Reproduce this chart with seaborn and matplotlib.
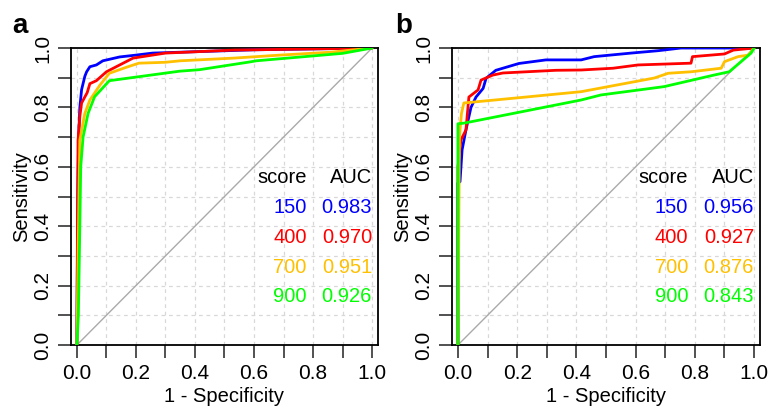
#!/usr/bin/env python3

import pandas as pd
import seaborn as sns
import matplotlib.pyplot as plt
import numpy as np

# score cutoffs and colours
scores = ['150', '400', '700', '900']
colors = ['#0000FF', '#FF0000', '#FFC000', '#00FF00']

# panel a: ROC points (1 - specificity, sensitivity)
a_fpr_150 = [0.0, 0.003, 0.006, 0.010, 0.016, 0.027, 0.033, 0.044, 0.066, 0.088, 0.11, 0.145, 0.19, 0.257, 0.415, 0.6, 1.0]
a_tpr_150 = [0.0, 0.50, 0.70, 0.80, 0.86, 0.905, 0.92, 0.937, 0.943, 0.957, 0.962, 0.970, 0.975, 0.983, 0.988, 0.994, 1.0]
a_fpr_400 = [0.0, 0.002, 0.004, 0.010, 0.016, 0.035, 0.044, 0.066, 0.10, 0.145, 0.19, 0.30, 0.53, 1.0]
a_tpr_400 = [0.0, 0.40, 0.69, 0.77, 0.815, 0.85, 0.88, 0.89, 0.92, 0.943, 0.966, 0.983, 0.993, 1.0]
a_fpr_700 = [0.0, 0.004, 0.010, 0.027, 0.044, 0.078, 0.11, 0.17, 0.21, 0.30, 0.35, 0.53, 0.686, 0.86, 1.0]
a_tpr_700 = [0.0, 0.30, 0.69, 0.78, 0.825, 0.875, 0.915, 0.936, 0.949, 0.952, 0.957, 0.966, 0.976, 0.986, 1.0]
a_fpr_900 = [0.0, 0.005, 0.010, 0.013, 0.021, 0.038, 0.06, 0.11, 0.348, 0.415, 0.585, 0.608, 0.9, 1.0]
a_tpr_900 = [0.0, 0.10, 0.40, 0.60, 0.70, 0.78, 0.836, 0.89, 0.922, 0.927, 0.953, 0.957, 0.982, 1.0]
a_auc = ['0.983', '0.970', '0.951', '0.926']

# panel b
b_fpr_150 = [0.0, 0.0, 0.007, 0.014, 0.027, 0.044, 0.061, 0.085, 0.095, 0.128, 0.206, 0.297, 0.416, 0.46, 0.585, 0.676, 0.753, 1.0]
b_tpr_150 = [0.0, 0.545, 0.55, 0.657, 0.724, 0.80, 0.835, 0.864, 0.898, 0.925, 0.948, 0.96, 0.96, 0.971, 0.983, 0.991, 1.0, 1.0]
b_fpr_400 = [0.0, 0.0, 0.010, 0.027, 0.037, 0.068, 0.078, 0.118, 0.152, 0.331, 0.416, 0.524, 0.608, 0.787, 0.792, 0.9, 0.93, 1.0]
b_tpr_400 = [0.0, 0.60, 0.69, 0.724, 0.835, 0.859, 0.892, 0.909, 0.916, 0.925, 0.926, 0.932, 0.943, 0.949, 0.971, 0.98, 0.993, 1.0]
b_fpr_700 = [0.0, 0.005, 0.012, 0.02, 0.23, 0.416, 0.663, 0.71, 0.787, 0.889, 0.9, 0.946, 0.98, 1.0]
b_tpr_700 = [0.0, 0.70, 0.78, 0.815, 0.835, 0.853, 0.899, 0.915, 0.92, 0.932, 0.954, 0.971, 0.976, 1.0]
b_fpr_900 = [0.0, 0.0, 0.02, 0.416, 0.483, 0.696, 0.865, 0.916, 0.956, 0.99, 1.0]
b_tpr_900 = [0.0, 0.745, 0.747, 0.825, 0.842, 0.87, 0.909, 0.92, 0.954, 0.983, 1.0]
b_auc = ['0.956', '0.927', '0.876', '0.843']

ticks = np.round(np.arange(0, 1.01, 0.1), 1)
tick_labels = [f'{t:.1f}' if i % 2 == 0 else '' for i, t in enumerate(ticks)]


def make_frame(fprs, tprs):
    rows = []
    for score, fpr, tpr in zip(scores, fprs, tprs):
        for i, (x, y) in enumerate(zip(fpr, tpr)):
            rows.append([score, i, x, y])
    return pd.DataFrame(rows, columns=['score', 'idx', 'fpr', 'tpr'])


def plotRoc(ax, data, aucs, letter, fig, letter_x):
    ax.plot([0, 1], [0, 1], color='#AAAAAA', lw=1.0, zorder=1)
    sns.lineplot(data=data, x='fpr', y='tpr', hue='score', hue_order=scores,
                 palette=colors, sort=False, estimator=None, lw=2.0,
                 legend=False, ax=ax, zorder=3)
    ax.set_xlim(-0.02, 1.02)
    ax.set_ylim(0, 1)
    ax.set_xticks(ticks)
    ax.set_yticks(ticks)
    ax.set_xticklabels(tick_labels)
    ax.set_yticklabels(tick_labels, rotation=90, va='center')
    ax.grid(True, color='#D8D8D8', ls=(0, (3, 3)), lw=0.9)
    ax.set_axisbelow(True)
    ax.tick_params(direction='out', length=9.5, width=1.1, labelsize=15,
                   pad=4, color='#222222', labelcolor='black',
                   left=True, bottom=True)
    for s in ax.spines.values():
        s.set_visible(True)
        s.set_color('black')
        s.set_linewidth(1.3)
    ax.set_xlabel('1 - Specificity', fontsize=14.5, color='black')
    ax.set_ylabel('Sensitivity', fontsize=14.5, color='black')
    ax.xaxis.set_label_coords(0.5, -0.14)
    ax.yaxis.set_label_coords(-0.13, 0.5)

    ax.text(0.778, 0.545, 'score', ha='right', va='baseline', fontsize=14.5,
            color='black')
    ax.text(1.0, 0.545, 'AUC', ha='right', va='baseline', fontsize=14.5,
            color='black')
    for i, (score, auc) in enumerate(zip(scores, aucs)):
        y = 0.444 - i * 0.1
        ax.text(0.778, y, score, ha='right', va='baseline', fontsize=14.5,
                color=colors[i])
        ax.text(1.0, y, auc, ha='right', va='baseline', fontsize=14.5,
                color=colors[i])
    fig.text(letter_x, 0.919, letter, fontsize=20, fontweight='bold',
             va='baseline', ha='left', color='black')


def main():
    sns.set_style("white")
    plt.rcParams['font.family'] = ['Liberation Sans', 'DejaVu Sans']
    plt.rcParams['text.color'] = 'black'

    fig = plt.figure(figsize=(7.69, 4.07), dpi=100)
    ax_a = fig.add_axes([0.0923, 0.1523, 0.3992, 0.7297])
    ax_b = fig.add_axes([0.5878, 0.1523, 0.4005, 0.7297])

    data_a = make_frame([a_fpr_150, a_fpr_400, a_fpr_700, a_fpr_900],
                        [a_tpr_150, a_tpr_400, a_tpr_700, a_tpr_900])
    data_b = make_frame([b_fpr_150, b_fpr_400, b_fpr_700, b_fpr_900],
                        [b_tpr_150, b_tpr_400, b_tpr_700, b_tpr_900])

    plotRoc(ax_a, data_a, a_auc, 'a', fig, 12 / 769)
    plotRoc(ax_b, data_b, b_auc, 'b', fig, 395 / 769)

    plt.savefig('out.png', format='png', dpi=100)


if __name__ == '__main__':
    main()
